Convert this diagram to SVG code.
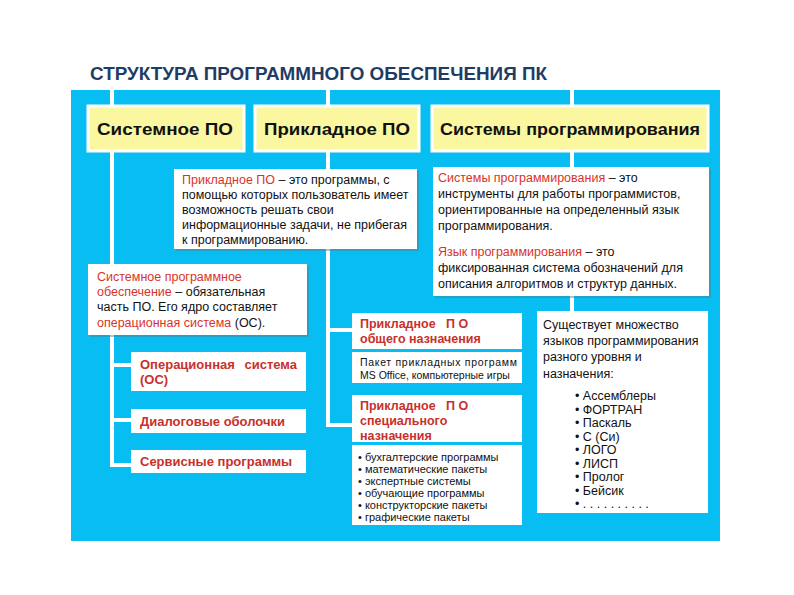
<svg xmlns="http://www.w3.org/2000/svg" width="794" height="595" viewBox="0 0 794 595">
<style>
text{font-family:"Liberation Sans",Arial,sans-serif;fill:#111}
.title{font-size:18px;font-weight:bold;fill:#1f3d63}
.hdr{fill:#fbf7a0;stroke:#fff;stroke-width:3}
.ht{font-size:17px;font-weight:bold;fill:#111}
.box{fill:#fff}
.sh{fill:#4a7d92;opacity:.45}
.t{font-size:12.5px}
.r{fill:#d8332a}
.rb{font-size:13px;font-weight:bold;fill:#c9302a}
.rm{font-size:12.5px;font-weight:bold;fill:#c9302a}
.s{font-size:10.5px}
.l{font-size:11px}
.b{font-size:12.5px}
.conn line,.conn path{stroke:#fff;stroke-width:4;fill:none}
</style>
<rect width="794" height="595" fill="#fff"/>
<text class="title" x="90" y="80" textLength="457" lengthAdjust="spacingAndGlyphs">СТРУКТУРА  ПРОГРАММНОГО  ОБЕСПЕЧЕНИЯ  ПК</text>
<rect x="71" y="90" width="649" height="451" fill="#08bdf1"/>
<g class="conn" id="connectors">
<path d="M112 90 V465 H131"/>
<line x1="112" y1="365" x2="131" y2="365"/>
<line x1="112" y1="420" x2="131" y2="420"/>
<path d="M328 90 V425 H352"/>
<line x1="328" y1="330" x2="352" y2="330"/>
<line x1="572" y1="90" x2="572" y2="311"/>
</g>
<g id="hdr-sys">
<rect class="hdr" x="88" y="106" width="156" height="45"/>
<text class="ht" x="97" y="135" textLength="136" lengthAdjust="spacingAndGlyphs">Системное  ПО</text>
</g>
<g id="hdr-app">
<rect class="hdr" x="255" y="106" width="164" height="45"/>
<text class="ht" x="264" y="135" textLength="146" lengthAdjust="spacingAndGlyphs">Прикладное  ПО</text>
</g>
<g id="hdr-prog">
<rect class="hdr" x="432" y="106" width="276" height="45"/>
<text class="ht" x="440" y="135" textLength="260" lengthAdjust="spacingAndGlyphs">Системы программирования</text>
</g>
<g id="def-app">
<rect class="sh" x="176" y="171" width="243" height="80"/>
<rect class="box" x="174" y="169" width="243" height="80"/>
<text class="t" x="182" y="184"><tspan class="r">Прикладное ПО</tspan> – это программы, с</text>
<text class="t" x="182" y="199">помощью которых пользователь имеет</text>
<text class="t" x="182" y="214">возможность решать свои</text>
<text class="t" x="182" y="229">информационные задачи, не прибегая</text>
<text class="t" x="182" y="244">к программированию.</text>
</g>
<g id="def-prog">
<rect class="sh" x="435" y="169" width="276" height="129"/>
<rect class="box" x="433" y="167" width="276" height="129"/>
<text class="t" x="438" y="182"><tspan class="r">Системы программирования</tspan> – это</text>
<text class="t" x="438" y="198">инструменты для работы программистов,</text>
<text class="t" x="438" y="214">ориентированные на определенный язык</text>
<text class="t" x="438" y="230">программирования.</text>
<text class="t" x="438" y="256"><tspan class="r">Язык программирования</tspan> – это</text>
<text class="t" x="438" y="272">фиксированная система обозначений для</text>
<text class="t" x="438" y="288">описания алгоритмов и структур данных.</text>
</g>
<g id="def-sys">
<rect class="sh" x="90" y="266" width="219" height="71"/>
<rect class="box" x="88" y="264" width="219" height="71"/>
<text class="t r" x="97" y="281">Системное программное</text>
<text class="t" x="97" y="296"><tspan class="r">обеспечение</tspan> – обязательная</text>
<text class="t" x="97" y="311">часть ПО. Его ядро составляет</text>
<text class="t" x="97" y="327"><tspan class="r">операционная  система</tspan>  (ОС).</text>
</g>
<g id="os">
<rect class="box" x="131" y="352" width="175" height="39"/>
<text class="rb" x="140" y="369">Операционная</text>
<text class="rb" x="297" y="369" text-anchor="end">система</text>
<text class="rb" x="140" y="384">(ОС)</text>
</g>
<g id="shell">
<rect class="box" x="131" y="409" width="175" height="24"/>
<text class="rb" x="140" y="426">Диалоговые оболочки</text>
</g>
<g id="service">
<rect class="box" x="131" y="450" width="175" height="23"/>
<text class="rb" x="140" y="466">Сервисные программы</text>
</g>
<g id="app-general">
<rect class="box" x="352" y="313" width="170" height="36"/>
<text class="rm" x="360" y="328"><tspan>Прикладное</tspan><tspan x="446">П О</tspan></text>
<text class="rm" x="360" y="343">общего назначения</text>
<rect class="box" x="352" y="352" width="170" height="31"/>
<text class="s" x="360" y="366" textLength="157" lengthAdjust="spacing">Пакет  прикладных  программ</text>
<text class="s" x="360" y="379">MS Office, компьютерные игры</text>
</g>
<g id="app-special">
<rect class="box" x="352" y="395" width="170" height="47"/>
<text class="rm" x="360" y="410"><tspan>Прикладное</tspan><tspan x="446">П О</tspan></text>
<text class="rm" x="360" y="425">специального</text>
<text class="rm" x="360" y="440">назначения</text>
<rect class="box" x="352" y="445" width="170" height="80"/>
<text class="l" x="358" y="461">• бухгалтерские программы</text>
<text class="l" x="358" y="473">• математические пакеты</text>
<text class="l" x="358" y="485">• экспертные системы</text>
<text class="l" x="358" y="497">• обучающие программы</text>
<text class="l" x="358" y="509">• конструкторские пакеты</text>
<text class="l" x="358" y="521">• графические пакеты</text>
</g>
<g id="languages">
<rect class="box" x="537" y="311" width="171" height="202"/>
<text class="t" x="543" y="329">Существует множество</text>
<text class="t" x="543" y="345">языков программирования</text>
<text class="t" x="543" y="361">разного уровня и</text>
<text class="t" x="543" y="378">назначения:</text>
<text class="b" x="575" y="400">• Ассемблеры</text>
<text class="b" x="575" y="413.5">• ФОРТРАН</text>
<text class="b" x="575" y="427">• Паскаль</text>
<text class="b" x="575" y="440.5">• С (Си)</text>
<text class="b" x="575" y="454">• ЛОГО</text>
<text class="b" x="575" y="467.5">• ЛИСП</text>
<text class="b" x="575" y="481">• Пролог</text>
<text class="b" x="575" y="494.5">• Бейсик</text>
<text class="b" x="575" y="508">• . . . . . . . . . .</text>
</g>
</svg>
